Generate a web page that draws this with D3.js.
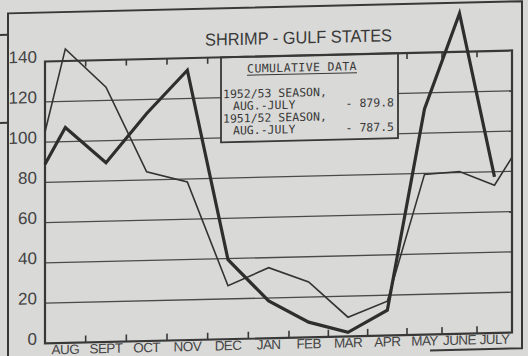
<!DOCTYPE html>
<html>
<head>
<meta charset="utf-8">
<script src="https://cdn.jsdelivr.net/npm/d3@7/dist/d3.min.js"></script>
<style>
  html, body { margin: 0; padding: 0; background: #d9d9d7; }
  svg { display: block; }
</style>
</head>
<body>
<svg id="chart" width="528" height="356"></svg>
<script>
// Monthly shrimp landings, Gulf States (two seasons, Aug.-July)
const months = ["AUG", "SEPT", "OCT", "NOV", "DEC", "JAN", "FEB", "MAR", "APR", "MAY", "JUNE", "JULY"];
const season1952_53 = [107, 89, 113, 134, 39.5, 18.5, 7.5, 2, 12.5, 112, 159, 77.5];
const season1951_52 = [146, 126.5, 84, 78.5, 26.5, 35, 27.5, 9.5, 17, 79.5, 80.5, 73.3];
// values where each line meets the left / right edge of the grid
const edges1952_53 = [89, null];
const edges1951_52 = [105, 87];
const yTicks = [0, 20, 40, 60, 80, 100, 120, 140];
const title = "SHRIMP - GULF STATES";
const legendHeading = "CUMULATIVE DATA";
const legendRows = [
  { label: "1952/53 SEASON,", sub: "AUG.-JULY", total: "- 879.8" },
  { label: "1951/52 SEASON,", sub: "AUG.-JULY", total: "- 787.5" }
];

const ink = "#383838";
const paper = "#d9d9d7";
const svg = d3.select("#chart");

svg.append("rect").attr("width", 528).attr("height", 356).attr("fill", paper);

// whole sheet is drawn with a slight downward slant to the left
const g = svg.append("g")
  .attr("transform", "translate(278,0) skewY(-1.35) translate(-278,0)");

const plotL = 45, plotR = 512, plotT = 56, plotB = 338;

// month index -> x; the hand-ruled month columns narrow toward the right
const xPos = d3.scaleLinear()
  .domain([-0.5, 5.5, 8.5, months.length - 0.5])
  .range([plotL, 289, 407, plotR]);
const y = d3.scaleLinear().domain([0, 140]).range([plotB, plotT]);

// outer frame
g.append("path")
  .attr("d", "M8,362 L8,7 L522,7 L522,354 L430,354")
  .attr("fill", "none").attr("stroke", ink).attr("stroke-width", 2);
// bracket marks at the left edge
[28.5, 116.5].forEach(v => {
  g.append("line").attr("x1", 0).attr("x2", 8).attr("y1", v).attr("y2", v)
    .attr("stroke", ink).attr("stroke-width", 2);
});

// horizontal grid
g.append("g").selectAll("line")
  .data(yTicks.filter(v => v > 0 && v < 140))
  .join("line")
  .attr("x1", plotL).attr("x2", plotR)
  .attr("y1", d => y(d)).attr("y2", d => y(d))
  .attr("stroke", "#4a4a4a").attr("stroke-width", 1.3);

// ticks on top and bottom edges at month boundaries
const bounds = d3.range(1, months.length).map(i => xPos(i - 0.5));
g.append("g").selectAll("line").data(bounds).join("line")
  .attr("x1", d => d).attr("x2", d => d)
  .attr("y1", plotB).attr("y2", plotB - 7)
  .attr("stroke", ink).attr("stroke-width", 1.6);
g.append("g").selectAll("line").data(bounds).join("line")
  .attr("x1", d => d).attr("x2", d => d)
  .attr("y1", plotT).attr("y2", plotT + 6)
  .attr("stroke", ink).attr("stroke-width", 1.6);

// legend box
const box = { x: 221, y: plotT, w: 177, h: 85 };
g.append("rect")
  .attr("x", box.x).attr("y", box.y).attr("width", box.w).attr("height", box.h)
  .attr("fill", paper).attr("stroke", ink).attr("stroke-width", 1.8);

const mono = "'DejaVu Sans Mono', 'Liberation Mono', monospace";
g.append("text")
  .attr("x", 302).attr("y", 72)
  .attr("text-anchor", "middle")
  .attr("font-family", mono).attr("font-size", 11.5)
  .attr("letter-spacing", 0.4)
  .attr("fill", ink)
  .text(legendHeading);
g.append("line")
  .attr("x1", 247).attr("x2", 357).attr("y1", 74.5).attr("y2", 74.5)
  .attr("stroke", ink).attr("stroke-width", 1);

legendRows.forEach((r, i) => {
  const base = 97 + i * 24.5;
  g.append("text").attr("x", 223).attr("y", base)
    .attr("font-family", mono).attr("font-size", 11.5).attr("fill", ink)
    .text(r.label);
  g.append("text").attr("x", 233).attr("y", base + 12)
    .attr("font-family", mono).attr("font-size", 11.5).attr("fill", ink)
    .text(r.sub);
  g.append("text").attr("x", 394).attr("y", base + 12)
    .attr("text-anchor", "end")
    .attr("font-family", mono).attr("font-size", 11.5).attr("fill", ink)
    .text(r.total);
});

// plot border
g.append("rect")
  .attr("x", plotL).attr("y", plotT).attr("width", plotR - plotL).attr("height", plotB - plotT)
  .attr("fill", "none").attr("stroke", ink).attr("stroke-width", 2.2);

// data lines
function seriesPoints(values, ends) {
  const pts = [];
  if (ends[0] != null) pts.push([xPos(-0.5), y(ends[0])]);
  values.forEach((v, i) => pts.push([xPos(i), y(v)]));
  if (ends[1] != null) pts.push([xPos(months.length - 0.5), y(ends[1])]);
  return pts;
}
const line = d3.line();
g.append("path")
  .attr("d", line(seriesPoints(season1951_52, edges1951_52)))
  .attr("fill", "none").attr("stroke", "#333").attr("stroke-width", 1.6)
  .attr("stroke-linejoin", "miter");
g.append("path")
  .attr("d", line(seriesPoints(season1952_53, edges1952_53)))
  .attr("fill", "none").attr("stroke", "#2e2e2e").attr("stroke-width", 3.2)
  .attr("stroke-linejoin", "miter");

// y labels
const sans = "'Liberation Sans', Arial, sans-serif";
g.append("g").selectAll("text").data(yTicks).join("text")
  .attr("x", 37).attr("y", d => y(d) + 1)
  .attr("text-anchor", "end")
  .attr("font-family", sans).attr("font-size", 17)
  .attr("fill", "#444")
  .text(d => d);

// month labels
g.append("g").selectAll("text").data(months).join("text")
  .attr("x", (d, i) => xPos(i))
  .attr("y", 349)
  .attr("text-anchor", "middle")
  .attr("font-family", sans).attr("font-size", 13.5)
  .attr("letter-spacing", -0.6)
  .attr("fill", "#444")
  .text(d => d);

// title
g.append("text")
  .attr("x", 298.5).attr("y", 44)
  .attr("text-anchor", "middle")
  .attr("font-family", sans).attr("font-size", 17.5)
  .attr("textLength", 187).attr("lengthAdjust", "spacingAndGlyphs")
  .attr("fill", ink)
  .text(title);
</script>
</body>
</html>
